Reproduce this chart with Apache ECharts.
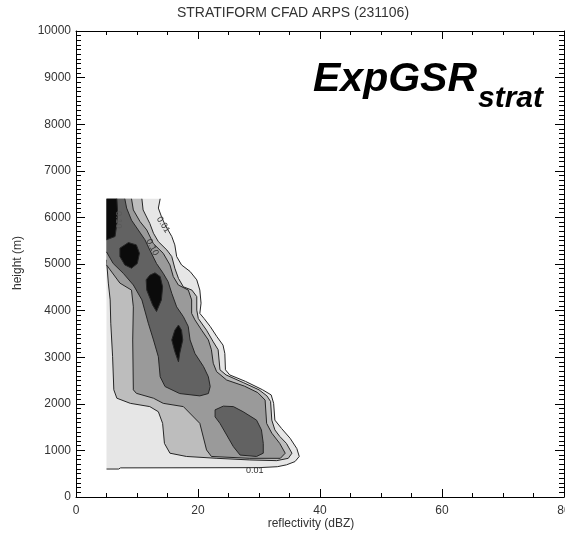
<!DOCTYPE html>
<html>
<head>
<meta charset="utf-8">
<script src="https://cdn.jsdelivr.net/npm/echarts@6/dist/echarts.min.js"></script>
<style>
  html, body { margin: 0; padding: 0; background: #fff; }
  #chart { width: 565px; height: 534px; }
</style>
</head>
<body>
<div id="chart"></div>
<script>
// Axis ranges
const reflectivityRange = [0, 80];
const heightRange = [0, 10000];

// Edges of the sampled domain (no contour line is drawn along them)
const domainLeftDbz = 5;
const domainTopHeight = 6400;

// Filled contour rings, points are [reflectivity (dBZ), height (m)], outermost first
const shade1Outer = [[5,600],[7,600],[7.3,625],[30,630],[33,650],[34.5,690],[35.9,760],[36.6,870],[36.2,1040],[35.1,1260],[33.7,1470],[32.6,1650],[32.4,2010],[32.0,2190],[30.6,2300],[27.8,2480],[25.2,2620],[24.5,2730],[24.4,3080],[24.1,3260],[23.1,3440],[22.0,3660],[21.0,3830],[20.3,3940],[20.5,4160],[20.3,4440],[19.8,4660],[18.7,4840],[17.3,4980],[16.5,5160],[16.2,5410],[15.7,5590],[14.6,5840],[14.0,6020],[13.5,6200],[13.8,6400],[5,6400]];

const shade2 = [[5,6400],[5,5090],[5.3,4590],[5.6,4230],[5.7,3730],[6.0,3010],[6.2,2300],[6.7,2120],[8.9,2010],[12.1,1940],[13.5,1830],[14.2,1580],[14.5,1150],[15.4,940],[18.1,870],[23.1,830],[28.5,795],[32.9,780],[34.8,830],[35.4,940],[34.5,1150],[33.4,1300],[32.6,1440],[32.1,1650],[31.9,2050],[31.3,2170],[30.0,2300],[27.5,2450],[24.6,2620],[23.6,2730],[23.3,3160],[22.5,3330],[21.4,3580],[20.05,3830],[19.8,4010],[19.8,4300],[19.0,4440],[17.6,4510],[16.8,4690],[16.2,4910],[15.7,5160],[14.9,5300],[13.5,5480],[12.7,5660],[12.1,5870],[11.0,6160],[10.8,6400]];

const shade3 = [[5,6400],[5,4980],[7.2,4590],[9.1,4440],[9.4,4080],[9.3,3370],[9.4,2300],[9.9,2225],[12.7,2120],[14.3,2010],[17.6,1940],[20.3,1580],[21.4,1010],[22.2,870],[28.5,830],[33.5,830],[34.3,940],[33.4,1150],[32.1,1370],[31.25,1580],[31.0,2080],[29.8,2240],[27.6,2380],[24.7,2510],[23.05,2690],[22.5,2870],[22.2,3160],[21.7,3370],[20.6,3580],[19.5,3800],[18.96,3940],[18.96,4230],[18.41,4440],[16.77,4550],[15.95,4730],[15.4,4980],[14.3,5230],[12.67,5440],[11.6,5730],[10.5,5910],[9.4,6160],[9.1,6400]];

const shade4Upper = [[5,6400],[5,5260],[6.1,5010],[7.75,4800],[9.4,4550],[10.8,4230],[11.85,3730],[12.7,3370],[13.5,3010],[13.8,2580],[14.6,2370],[17.0,2220],[20.3,2170],[21.7,2220],[22.0,2370],[21.7,2580],[20.9,2800],[19.5,3080],[18.7,3370],[18.4,3660],[17.6,3870],[16.5,4080],[15.7,4370],[15.1,4620],[14.3,4800],[13.2,5010],[12.1,5300],[11.3,5520],[10.2,5730],[9.1,5940],[8.3,6200],[8.0,6400]];

const shade4Lower = [[22.8,1870],[24.15,1950],[25.8,1940],[27.4,1830],[29.6,1650],[30.4,1440],[30.7,1150],[30.7,940],[29.6,870],[26.9,900],[25.8,1080],[24.7,1330],[23.6,1580],[22.8,1720]];

const shade5Top = [[5,6400],[6.7,6400],[6.8,6160],[6.7,5870],[6.4,5590],[5,5520]];
const shade5CoreA = [[7.2,5340],[8.6,5460],[9.9,5410],[10.4,5230],[10.05,5010],[9.1,4910],[8.0,4980],[7.2,5160]];
const shade5CoreB = [[12.1,4760],[12.95,4810],[13.8,4730],[14.2,4510],[14.0,4230],[13.2,3980],[12.56,4120],[11.6,4440],[11.5,4660]];
const shade5CoreC = [[16.2,3580],[16.8,3690],[17.3,3580],[17.5,3370],[17.0,3080],[16.8,2900],[16.2,3120],[15.7,3370]];

// Contour level labels: positions [dBZ, m] and texts
const levelLabelPos = [[14.3,5840],[12.5,5360],[7.0,5950],[29.3,560]];
const levelLabelText = ['0.01','0.10','0.10','0.01'];

// Shade layers drawn from the outside in
const layers = [
  [shade1Outer],
  [shade2],
  [shade3],
  [shade4Upper, shade4Lower],
  [shade5Top, shade5CoreA, shade5CoreB, shade5CoreC]
];
const layerFill = ['#e6e6e6', '#bdbdbd', '#9a9a9a', '#626262', '#0b0b0b'];
const levelLabelAngle = [-58, -62, -90, 0];

const ringItems = [];
layers.forEach((rings, li) => rings.forEach((r, ri) => ringItems.push([li, ri])));

function onDomainEdge(a, b) {
  return (a[0] === domainLeftDbz && b[0] === domainLeftDbz) ||
         (a[1] === domainTopHeight && b[1] === domainTopHeight);
}

function renderRing(params, api) {
  const li = api.value(0), ri = api.value(1);
  const ring = layers[li][ri];
  const pts = ring.map(p => api.coord(p));
  const children = [{
    type: 'polygon',
    shape: { points: pts },
    style: { fill: layerFill[li], stroke: null }
  }];
  // contour lines: split the ring wherever it runs along the domain edge
  let run = [];
  const n = ring.length;
  for (let i = 0; i < n; i++) {
    const a = ring[i], b = ring[(i + 1) % n];
    if (onDomainEdge(a, b)) {
      if (run.length > 1) children.push(lineEl(run));
      run = [];
    } else {
      if (run.length === 0) run.push(api.coord(a));
      run.push(api.coord(b));
    }
  }
  if (run.length > 1) children.push(lineEl(run));
  return { type: 'group', children };
}

function lineEl(points) {
  return {
    type: 'polyline',
    shape: { points },
    style: { stroke: '#262626', lineWidth: 1, fill: null }
  };
}

function renderLabel(params, api) {
  const i = params.dataIndex;
  const p = api.coord([api.value(0), api.value(1)]);
  return {
    type: 'text',
    x: p[0], y: p[1],
    rotation: levelLabelAngle[i] * Math.PI / 180,
    style: {
      text: levelLabelText[i],
      fill: i === 2 ? '#5a5a5a' : '#333',
      font: '9px "Liberation Sans"',
      align: 'center', verticalAlign: 'middle',
      textAlign: 'center', textVerticalAlign: 'middle'
    }
  };
}

const axisFont = { color: '#333', fontFamily: 'Liberation Sans', fontSize: 12 };
const lineStyle = { color: '#000', width: 1 };

function xAxisDef(position, showLabel) {
  return {
    type: 'value', position,
    min: reflectivityRange[0], max: reflectivityRange[1], interval: 20,
    axisLine: { onZero: false, lineStyle },
    axisTick: { inside: true, length: 8, lineStyle },
    minorTick: { show: true, splitNumber: 4, length: 4, lineStyle },
    splitLine: { show: false },
    minorSplitLine: { show: false },
    axisLabel: Object.assign({ show: showLabel, margin: 8, formatter: v => String(v) }, axisFont)
  };
}
function yAxisDef(position, showLabel) {
  return {
    type: 'value', position,
    min: heightRange[0], max: heightRange[1], interval: 1000,
    axisLine: { onZero: false, lineStyle },
    axisTick: { inside: true, length: 9, lineStyle },
    minorTick: { show: true, splitNumber: 10, length: 5, lineStyle },
    splitLine: { show: false },
    minorSplitLine: { show: false },
    axisLabel: Object.assign({ show: showLabel, margin: 5, formatter: v => String(v) }, axisFont)
  };
}

const chart = echarts.init(document.getElementById('chart'));
chart.setOption({
  animation: false,
  backgroundColor: '#fff',
  grid: { left: 76, right: 1, top: 31, bottom: 37, containLabel: false, outerBoundsMode: 'none' },
  xAxis: [xAxisDef('bottom', true), xAxisDef('top', false)],
  yAxis: [yAxisDef('left', true), yAxisDef('right', false)],
  series: [
    {
      type: 'custom',
      xAxisIndex: 0, yAxisIndex: 0,
      data: ringItems,
      renderItem: renderRing,
      silent: true, clip: true, z: 2
    },
    {
      type: 'custom',
      xAxisIndex: 0, yAxisIndex: 0,
      data: levelLabelPos,
      renderItem: renderLabel,
      silent: true, z: 3
    }
  ],
  graphic: [
    {
      type: 'text', x: 293, y: 13,
      style: { text: 'STRATIFORM CFAD ARPS (231106)', font: '14px "Liberation Sans"', fill: '#333',
               align: 'center', verticalAlign: 'middle', textAlign: 'center', textVerticalAlign: 'middle' }
    },
    {
      type: 'text', x: 311, y: 524,
      style: { text: 'reflectivity (dBZ)', font: '12px "Liberation Sans"', fill: '#333',
               align: 'center', verticalAlign: 'middle', textAlign: 'center', textVerticalAlign: 'middle' }
    },
    {
      type: 'text', x: 18, y: 263, rotation: Math.PI / 2,
      style: { text: 'height (m)', font: '12px "Liberation Sans"', fill: '#333',
               align: 'center', verticalAlign: 'middle', textAlign: 'center', textVerticalAlign: 'middle' }
    },
    {
      type: 'text', x: 313, y: 59, z: 10,
      style: { text: 'ExpGSR', font: 'italic bold 41px "Liberation Sans"', fill: '#000',
               align: 'left', verticalAlign: 'top', textAlign: 'left', textVerticalAlign: 'top' }
    },
    {
      type: 'text', x: 478, y: 84, z: 10,
      style: { text: 'strat', font: 'italic bold 30px "Liberation Sans"', fill: '#000',
               align: 'left', verticalAlign: 'top', textAlign: 'left', textVerticalAlign: 'top' }
    }
  ]
});
</script>
</body>
</html>
